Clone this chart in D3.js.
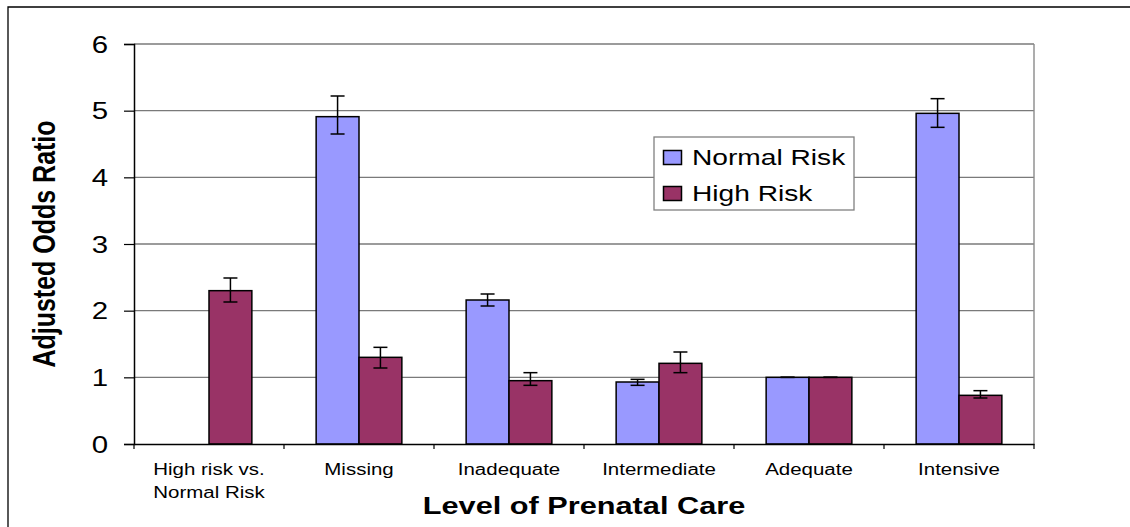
<!DOCTYPE html>
<html>
<head>
<meta charset="utf-8">
<script src="https://cdn.jsdelivr.net/npm/d3@7"></script>
<style>
  html, body { margin: 0; padding: 0; background: #fff; overflow: hidden; }
  svg { display: block; font-family: "Liberation Sans", Arial, sans-serif; }
</style>
</head>
<body>
<svg id="chart" width="1130" height="527"></svg>
<script>
// Adjusted odds ratios by level of prenatal care, with 95% confidence limits
const categories = ["High risk vs.|Normal Risk", "Missing", "Inadequate", "Intermediate", "Adequate", "Intensive"];
const seriesNames = ["Normal Risk", "High Risk"];
const normalRisk   = [null, 4.91, 2.16, 0.93, 1.00, 4.96];
const normalRiskLo = [null, 4.65, 2.07, 0.88, 1.00, 4.75];
const normalRiskHi = [null, 5.22, 2.25, 0.97, 1.00, 5.18];
const highRisk     = [2.30, 1.30, 0.95, 1.21, 1.00, 0.73];
const highRiskLo   = [2.13, 1.14, 0.88, 1.07, 1.00, 0.69];
const highRiskHi   = [2.49, 1.45, 1.07, 1.38, 1.00, 0.80];
const yTicks = [0, 1, 2, 3, 4, 5, 6];

const colors = { "Normal Risk": "#9999FF", "High Risk": "#993366" };
const SX = 1.28; // horizontal text widening

const svg = d3.select("#chart");
const plotL = 134, plotR = 1034, plotT = 44, plotB = 444;

const x = d3.scaleBand().domain(categories).range([plotL, plotR]).padding(0);
const groupW = x.bandwidth() * 2 / 3.5;
const xSub = d3.scaleBand().domain(seriesNames).range([0, groupW]).padding(0);
const y = d3.scaleLinear().domain([0, 6]).range([plotB, plotT]);

// outer chart frame (top and left edges; the rest runs off the page)
svg.append("path")
  .attr("d", "M8,540 L8,7 L1140,7")
  .attr("fill", "none").attr("stroke", "#000").attr("stroke-width", 1.3);

// gridlines
svg.append("g").selectAll("line").data(yTicks.filter(d => d > 0)).join("line")
  .attr("x1", plotL).attr("x2", plotR)
  .attr("y1", d => y(d)).attr("y2", d => y(d))
  .attr("stroke", "#7a7a7a").attr("stroke-width", 1.4);

// plot area right border
svg.append("line")
  .attr("x1", plotR).attr("x2", plotR).attr("y1", plotT).attr("y2", plotB)
  .attr("stroke", "#8a8a8a").attr("stroke-width", 1.4);

// data rows
const rows = categories.map((c, i) => ({
  cat: c,
  vals: [
    { s: "Normal Risk", v: normalRisk[i], lo: normalRiskLo[i], hi: normalRiskHi[i] },
    { s: "High Risk", v: highRisk[i], lo: highRiskLo[i], hi: highRiskHi[i] }
  ].filter(d => d.v != null)
}));

const groups = svg.append("g").selectAll("g").data(rows).join("g")
  .attr("transform", d => `translate(${x(d.cat) + (x.bandwidth() - groupW) / 2},0)`);

groups.selectAll("rect").data(d => d.vals).join("rect")
  .attr("x", d => xSub(d.s))
  .attr("width", xSub.bandwidth())
  .attr("y", d => y(d.v))
  .attr("height", d => y(0) - y(d.v))
  .attr("fill", d => colors[d.s])
  .attr("stroke", "#000").attr("stroke-width", 1.5);

// error bars
const eb = groups.selectAll("g.err").data(d => d.vals).join("g").attr("class", "err")
  .attr("stroke", "#000").attr("stroke-width", 1.5);
const cx = d => xSub(d.s) + xSub.bandwidth() / 2;
eb.append("line").attr("x1", cx).attr("x2", cx).attr("y1", d => y(d.lo)).attr("y2", d => y(d.hi));
eb.append("line").attr("x1", d => cx(d) - 7).attr("x2", d => cx(d) + 7).attr("y1", d => y(d.hi)).attr("y2", d => y(d.hi));
eb.append("line").attr("x1", d => cx(d) - 7).attr("x2", d => cx(d) + 7).attr("y1", d => y(d.lo)).attr("y2", d => y(d.lo));

// y axis
const yAxis = svg.append("g").attr("transform", `translate(${plotL},0)`)
  .call(d3.axisLeft(y).tickValues(yTicks).tickSize(10).tickFormat(d3.format("d")));
yAxis.select(".domain").attr("stroke", "#000").attr("stroke-width", 1.5);
yAxis.selectAll(".tick line").attr("stroke", "#000").attr("stroke-width", 1.2);
yAxis.selectAll(".tick text")
  .attr("x", 0).attr("dy", "0.35em")
  .attr("transform", `translate(-26,0) scale(${SX},1)`)
  .attr("font-size", 23).attr("fill", "#000")
  .attr("font-family", "'Liberation Sans', Arial, sans-serif");

// x axis
const xAxis = svg.append("g").attr("transform", `translate(0,${plotB})`)
  .call(d3.axisBottom(x).tickSize(0).tickFormat(""));
xAxis.select(".domain").attr("stroke", "#000").attr("stroke-width", 1.5);
xAxis.selectAll(".tick").remove();
// boundary ticks between categories
const bounds = categories.map(c => x(c)).concat([plotR]);
svg.append("g").selectAll("line").data(bounds).join("line")
  .attr("x1", d => d).attr("x2", d => d).attr("y1", plotB).attr("y2", plotB + 5)
  .attr("stroke", "#000").attr("stroke-width", 1.2);

// category labels
const catG = svg.append("g").selectAll("g").data(categories).join("g")
  .attr("transform", d => `translate(${x(d) + x.bandwidth() / 2},475) scale(${SX},1)`);
catG.each(function(d) {
  const lines = d.split("|");
  const t = d3.select(this).append("text")
    .attr("text-anchor", "middle").attr("font-size", 16).attr("fill", "#000");
  lines.forEach((l, i) => t.append("tspan").attr("x", 0).attr("y", i * 23.5).text(l));
});

// axis titles
svg.append("text")
  .attr("transform", `translate(${(plotL + plotR) / 2},514) scale(${SX},1)`)
  .attr("text-anchor", "middle").attr("font-size", 24).attr("font-weight", "bold")
  .text("Level of Prenatal Care");

svg.append("text")
  .attr("transform", `translate(55,244) scale(${SX},1) rotate(-90)`)
  .attr("text-anchor", "middle").attr("font-size", 25).attr("font-weight", "bold")
  .text("Adjusted Odds Ratio");

// legend
const lg = svg.append("g").attr("transform", "translate(654,137)");
lg.append("rect").attr("width", 200).attr("height", 73)
  .attr("fill", "#fff").attr("stroke", "#808080").attr("stroke-width", 1.3);
const items = lg.selectAll("g").data(seriesNames).join("g")
  .attr("transform", (d, i) => `translate(0,${i * 36})`);
items.append("rect").attr("x", 9.5).attr("y", 13.5).attr("width", 18).attr("height", 14)
  .attr("fill", d => colors[d]).attr("stroke", "#000").attr("stroke-width", 1.5);
items.append("text")
  .attr("transform", `translate(38,28) scale(${SX},1)`)
  .attr("font-size", 22).attr("fill", "#000").text(d => d);
</script>
</body>
</html>
